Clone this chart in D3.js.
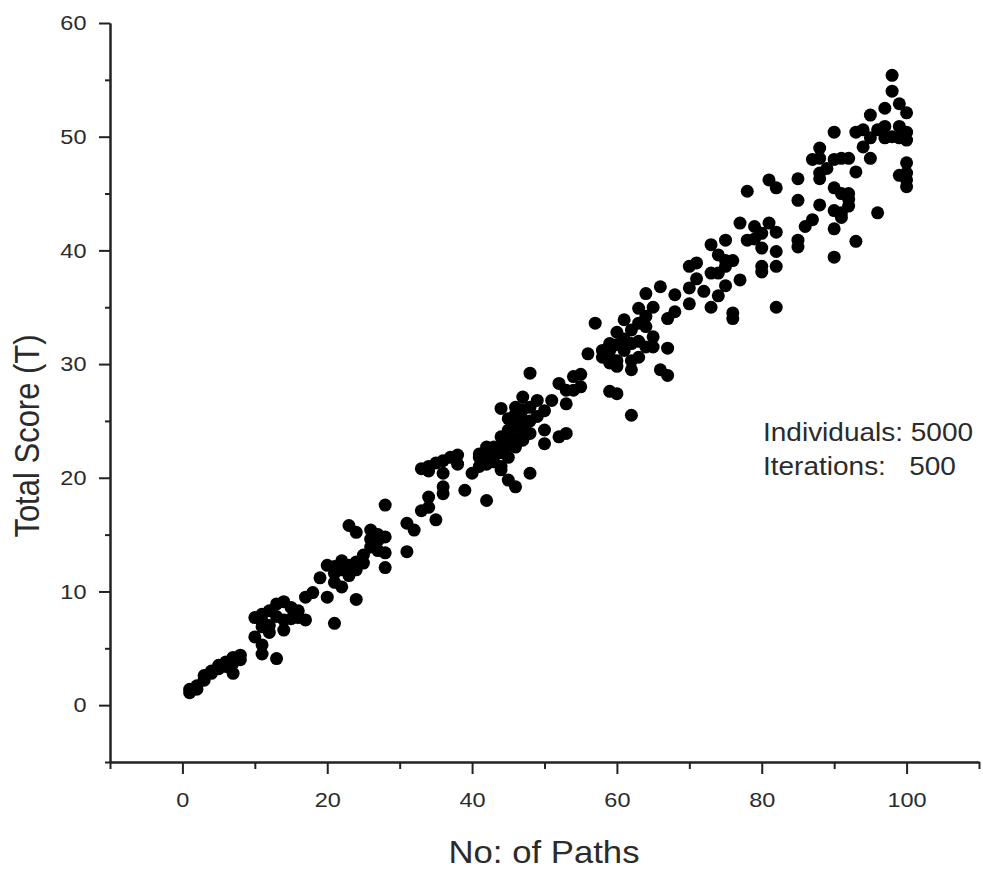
<!DOCTYPE html>
<html>
<head>
<meta charset="utf-8">
<script src="https://cdn.jsdelivr.net/npm/d3@7"></script>
<style>
  body { margin: 0; background: #fff; }
  svg text { font-family: "Liberation Sans", Arial, sans-serif; fill: #2b2b2b; }
</style>
</head>
<body>
<svg id="chart" width="983" height="873"></svg>
<script>
// number of paths (x) and total score (y)
const pathCounts = [
  1,1,2,2,3,3,4,4,5,5,6,6,7,7,7,7,8,8,
  10,11,12,11,12,10,11,11,13,13,14,15,14,15,14,16,17,17,18,19,20,20,21,22,23,24,24,
  28,23,24,26,27,28,27,28,25,24,21,22,28,21,23,26,
  31,32,33,34,34,35,33,34,36,36,36,36,38,38,39,42,40,41,42,42,43,44,44,45,46,48,
  44,47,48,46,46,47,48,49,49,48,45,44,50,50,52,53,51,52,53,54,54,56,
  41,43,44,45,46,47,47,46,45,42,41,31,
  50,53,55,
  57,55,59,60,62,58,59,60,61,62,63,63,63,64,65,64,65,64,65,67,66,67,66,68,67,68,
  70,70,70,71,73,72,73,75,74,75,76,77,80,82,82,59,60,61,62,62,60,59,58,74,
  73,75,75,76,76,80,82,80,79,77,78,81,82,78,81,82,85,85,85,85,86,87,88,
  90,90,90,90,91,92,92,92,91,91,93,96,88,88,88,88,87,90,90,91,92,93,93,94,
  95,95,96,97,98,99,100,100,95,97,99,100,98,98,100,100,99,100,100,
  42,43,44,45,46,47,45,47,48,46,
  59,61,63,62,60,64,
  11,12,13,16,21,22,25,26,27,34,35,37,
  71,74,79,80,89,94,97,99
]
const totalScores = [
  1.1,1.4,1.7,1.4,2.2,2.6,2.8,3.0,3.2,3.5,3.8,3.4,4.1,2.8,3.7,4.2,4.4,4.0,
  7.7,8.0,8.3,6.9,6.4,6.0,5.3,4.5,4.1,8.9,9.1,8.6,7.5,7.6,6.6,7.7,7.5,9.5,9.9,11.2,12.3,9.5,7.2,12.7,12.3,12.6,9.3,
  17.6,15.8,15.2,15.4,14.5,14.8,13.6,13.4,12.5,11.9,11.6,10.4,12.1,10.8,11.4,13.9,
  16.0,15.4,17.1,18.3,17.4,16.3,20.8,21.0,21.5,20.4,19.2,18.6,22.0,21.2,18.9,18.0,20.4,21.8,22.7,22.4,22.1,21.0,20.7,19.8,19.2,20.4,
  26.1,27.1,29.2,25.6,24.5,25.1,26.2,26.8,25.4,23.9,23.3,22.7,24.2,23.0,23.6,23.9,26.8,28.3,27.7,27.7,28.9,30.9,
  22.1,22.7,23.6,24.2,24.8,23.9,23.3,22.7,21.8,21.2,21.0,13.5,
  25.9,26.5,29.1,
  33.6,28.0,27.6,27.4,25.5,31.2,30.6,30.3,33.9,31.8,30.6,33.6,34.9,36.2,35.0,33.3,32.4,31.5,31.5,31.4,29.5,29.0,36.8,36.1,34.0,34.6,
  36.7,35.3,38.6,38.9,38.0,36.4,35.0,36.9,38.0,38.6,34.5,37.4,38.6,38.6,35.0,31.8,31.7,31.2,30.3,29.5,29.8,30.1,30.6,36.0,
  40.5,40.9,39.1,39.1,34.0,38.1,39.9,41.5,42.1,42.4,40.9,42.4,41.6,45.2,46.2,45.5,46.3,44.4,40.9,40.3,42.1,42.7,44.0,
  39.4,41.9,43.5,45.5,45.0,45.0,44.5,43.9,43.3,42.9,40.8,43.3,49.0,48.1,46.8,46.3,48.0,50.4,48.0,48.1,48.1,46.9,50.4,49.1,
  49.9,48.1,50.6,49.9,50.0,50.9,50.4,49.7,51.9,52.5,52.9,52.1,54.0,55.4,47.7,46.8,46.6,46.2,45.6,
  21.8,21.4,22.2,22.9,23.4,24.4,25.2,26.0,25.0,26.2,
  31.2,32.2,32.0,33.0,32.8,34.2,
  7.4,7.0,7.8,8.3,12.2,11.9,13.2,14.6,15.0,20.6,21.3,21.8,
  37.5,39.6,41.0,40.2,47.2,50.6,50.9,49.9
]
const xMajor = [0, 20, 40, 60, 80, 100]
const xMinor = [-10, 10, 30, 50, 70, 90, 110]
const yMajor = [0, 10, 20, 30, 40, 50, 60]
const yMinor = [-5, 5, 15, 25, 35, 45, 55]
const notes = ['Individuals: 5000', 'Iterations:   500']

const stretch = 1.12   // text in the picture is a bit wider than Arial

const svg = d3.select('#chart')
const x = d3.scaleLinear().domain([-10, 110]).range([110, 979])
const y = d3.scaleLinear().domain([-5, 60]).range([762, 23])

const styleAxis = g => {
  g.attr('color', '#222').attr('font-family', null).attr('font-size', null)
  g.selectAll('path, line').attr('stroke-width', 2)
  g.selectAll('text')
    .style('font-size', '21px')
    .attr('transform', `scale(${stretch},1)`)
}

// x axis
svg.append('g')
  .attr('transform', `translate(0,${y(-5)})`)
  .call(d3.axisBottom(x).tickValues(xMajor).tickSize(12).tickSizeOuter(0).tickPadding(18))
  .call(styleAxis)
svg.append('g')
  .attr('transform', `translate(0,${y(-5)})`)
  .call(d3.axisBottom(x).tickValues(xMinor).tickSize(7).tickSizeOuter(0).tickFormat(''))
  .call(styleAxis)

// y axis
svg.append('g')
  .attr('transform', `translate(${x(-10)},0)`)
  .call(d3.axisLeft(y).tickValues(yMajor).tickSize(11).tickSizeOuter(0).tickPadding(10))
  .call(styleAxis)
svg.append('g')
  .attr('transform', `translate(${x(-10)},0)`)
  .call(d3.axisLeft(y).tickValues(yMinor).tickSize(5).tickSizeOuter(0).tickFormat(''))
  .call(styleAxis)

// points
svg.append('g')
  .selectAll('circle')
  .data(pathCounts.map((p, i) => [p, totalScores[i]]))
  .enter()
  .append('circle')
    .attr('cx', d => x(d[0]))
    .attr('cy', d => y(d[1]))
    .attr('r', 6.5)
    .attr('fill', '#000')

// axis titles
svg.append('text')
  .attr('transform', `translate(544,863) scale(${stretch},1)`)
  .attr('text-anchor', 'middle')
  .style('font-size', '31px')
  .text('No: of Paths')

svg.append('text')
  .attr('transform', `translate(39,436) scale(${stretch},1) rotate(-90)`)
  .attr('text-anchor', 'middle')
  .style('font-size', '31px')
  .text('Total Score (T)')

// run settings
svg.append('g')
  .selectAll('text')
  .data(notes)
  .enter()
  .append('text')
    .attr('transform', (d, i) => `translate(763,${441 + i * 34}) scale(${stretch},1)`)
    .style('font-size', '25px')
    .style('white-space', 'pre')
    .text(d => d)
</script>
</body>
</html>
